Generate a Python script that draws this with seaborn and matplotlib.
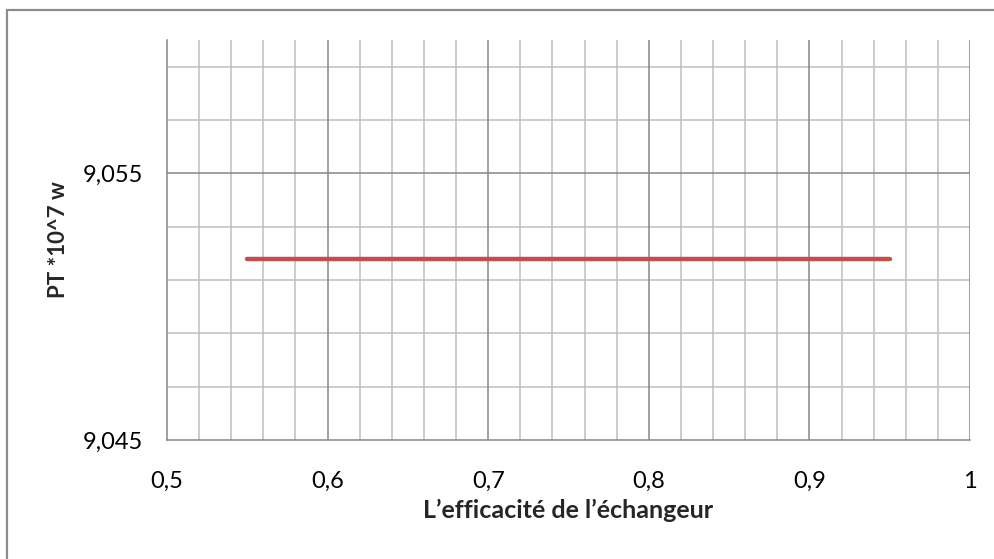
import numpy as np
import pandas as pd
import matplotlib
matplotlib.use("Agg")
import matplotlib.pyplot as plt
from matplotlib.patches import Rectangle
import seaborn as sns

# data
efficacite = [0.55, 0.6, 0.65, 0.7, 0.75, 0.8, 0.85, 0.9, 0.95]
pt = [9.0518, 9.0518, 9.0518, 9.0518, 9.0518, 9.0518, 9.0518, 9.0518, 9.0518]
x_ticks = [0.5, 0.6, 0.7, 0.8, 0.9, 1.0]
x_labels = ["0,5", "0,6", "0,7", "0,8", "0,9", "1"]
y_ticks = [9.045, 9.055]
y_labels = ["9,045", "9,055"]

df = pd.DataFrame({"eff": efficacite, "pt": pt})

sns.set_style("white")
plt.rcParams['font.family'] = ['Lato', 'DejaVu Sans']

fig = plt.figure(figsize=(9.94, 5.59), dpi=100)
ax = fig.add_axes([167/994, 1 - 440/559, (970-167)/994, (440-40)/559])

# outer chart frame (Excel style)
fig.patches.append(Rectangle((7/994, -0.1), 1.2, 1 - 10/559 + 0.1, transform=fig.transFigure,
                             fill=False, edgecolor='#8c8c8c', linewidth=1.6))

ax.set_xlim(0.5, 1.0)
ax.set_ylim(9.045, 9.060)

# gridlines
for v in np.arange(0.52, 1.0, 0.02):
    if abs((v * 10) - round(v * 10)) > 1e-6:
        ax.axvline(v, color='#bfbfbf', lw=1.1, zorder=0)
for v in x_ticks[1:]:
    ax.axvline(v, color='#868686', lw=1.1, zorder=0.5)
for v in [9.047, 9.049, 9.051, 9.053, 9.057, 9.059]:
    ax.axhline(v, color='#bfbfbf', lw=1.1, zorder=0)
ax.axhline(9.055, color='#868686', lw=1.1, zorder=0.5)

sns.lineplot(data=df, x='eff', y='pt', color='#C0504D', linewidth=3.2, ax=ax,
             solid_capstyle='round', zorder=3)

ax.set_xticks(x_ticks)
ax.set_xticklabels(x_labels)
ax.set_yticks(y_ticks)
ax.set_yticklabels(y_labels)
ax.tick_params(axis='both', direction='out', length=6, width=1.1, color='#868686',
               labelsize=17, colors='black')
ax.tick_params(axis='x', pad=16)
ax.tick_params(axis='y', pad=11)
for s in ['top', 'right']:
    ax.spines[s].set_visible(False)
for s in ['left', 'bottom']:
    ax.spines[s].set_color('#868686')
    ax.spines[s].set_linewidth(1.1)

ax.set_xlabel("L’efficacité de l’échangeur", fontsize=18, fontweight='bold', labelpad=5)
ax.set_ylabel("PT *10^7 w", fontsize=16, fontweight='bold', labelpad=10)

fig.savefig("out.png", dpi=100)
